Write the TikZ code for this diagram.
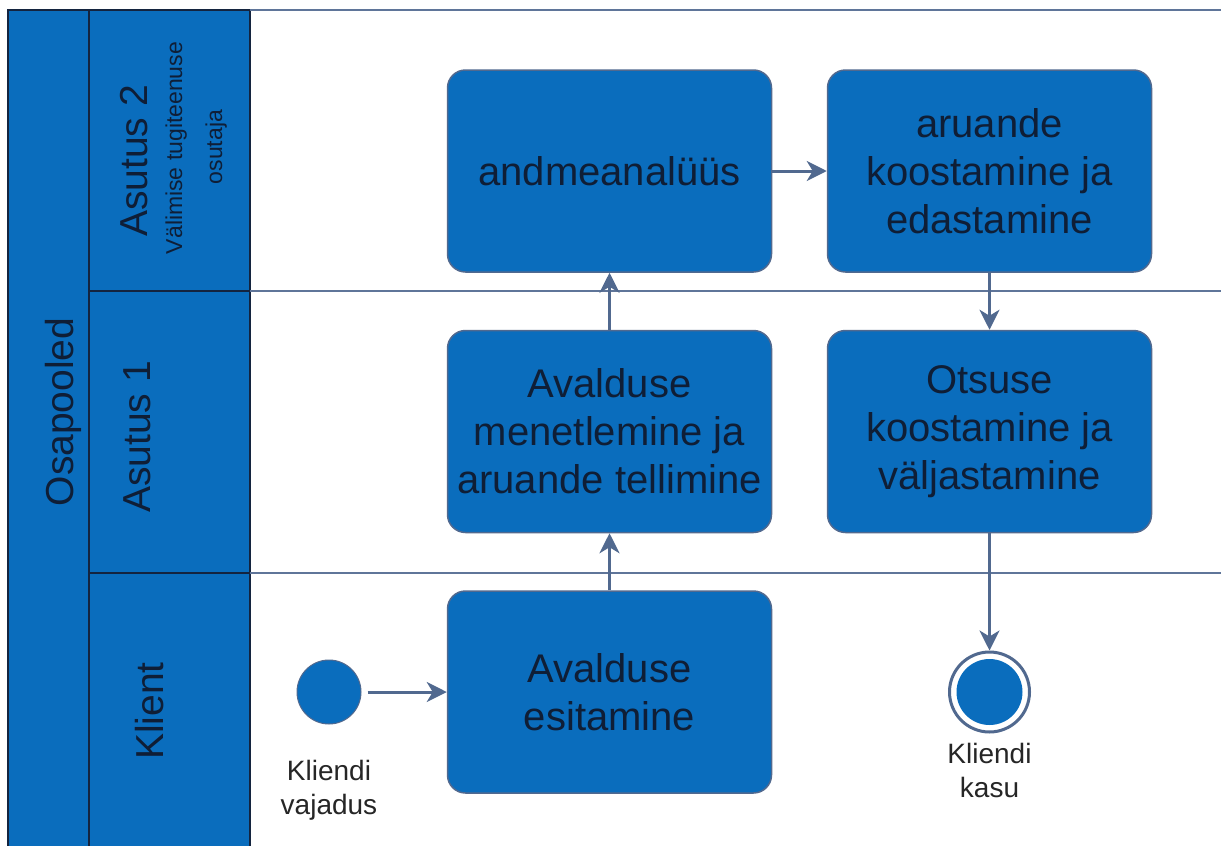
\documentclass[tikz,border=0pt]{standalone}
\usepackage{fontspec}
\setmainfont{Liberation Sans}
\usetikzlibrary{arrows.meta}
\definecolor{poolblue}{HTML}{0A6DBD}
\definecolor{edgeblue}{HTML}{51698F}
\definecolor{navy}{HTML}{14243F}
\definecolor{txt}{HTML}{0F1E36}
\definecolor{lbl}{HTML}{262626}
\definecolor{laneline}{HTML}{5F7599}
\tikzset{
  taskbox/.style={draw=edgeblue, line width=1.5pt, fill=poolblue, rounded corners=18pt,
    minimum width=324pt, minimum height=202pt, inner sep=0pt, align=center,
    text=txt, font=\fontsize{40}{48}\selectfont},
  flow/.style={draw=edgeblue, line width=3pt, -{Stealth[length=20pt,width=20pt,inset=6pt]}},
  lanelabel/.style={rotate=90, anchor=base, text=txt, font=\fontsize{39}{46}\selectfont, inner sep=0pt},
  evlabel/.style={align=center, text=lbl, font=\fontsize{28}{34}\selectfont, inner sep=0pt},
}
\begin{document}
\begin{tikzpicture}[x=1pt,y=-1pt]
\useasboundingbox (0,0) rectangle (1221,846);
\fill[white] (0,0) rectangle (1221,846);
% pool label area
\fill[poolblue] (8,10) rectangle (250,846);
\draw[navy, line width=1.5pt] (8,846) -- (8,10) -- (250,10);
\draw[navy, line width=1.5pt] (89,10) -- (89,846);
\draw[navy, line width=1.5pt] (250,10) -- (250,846);
\draw[navy, line width=1.5pt] (89,291) -- (250,291);
\draw[navy, line width=1.5pt] (89,573) -- (250,573);
% lane lines in the white area
\draw[laneline, line width=1.5pt] (250,10) -- (1221,10);
\draw[laneline, line width=1.5pt] (250,291) -- (1221,291);
\draw[laneline, line width=1.5pt] (250,573) -- (1221,573);
% labels
\node[lanelabel] (osa) at (73,412) {Osapooled};
\node[lanelabel] (as2) at (147,161) {Asutus 2};
\node[lanelabel, font=\fontsize{23}{28}\selectfont] (as2a) at (182,148) {Välimise tugiteenuse};
\node[lanelabel, font=\fontsize{23}{28}\selectfont] (as2b) at (222,147) {osutaja};
\node[lanelabel] (as1) at (150,437) {Asutus 1};
\node[lanelabel] (kl) at (163,711) {Klient};
% tasks
\node[taskbox] (anal) at (609.5,171) {andmeanalüüs};
\node[taskbox] (aru) at (989.5,171) {aruande\\koostamine ja\\edastamine};
\node[taskbox] (men) at (609.5,431.5) {Avalduse\\menetlemine ja\\aruande tellimine};
\node[taskbox] (ots) at (989.5,431.5) {Otsuse\\koostamine ja\\väljastamine};
\node[taskbox] (esi) at (609.5,692) {Avalduse\\esitamine};
% events
\node[circle, fill=poolblue, draw=edgeblue, line width=1pt, minimum size=64pt, inner sep=0pt] (start) at (329,692) {};
\node[circle, fill=white, draw=edgeblue, line width=3pt, minimum size=80pt, inner sep=0pt] (endo) at (989.5,692) {};
\node[circle, fill=poolblue, minimum size=66pt, inner sep=0pt] (endi) at (989.5,692) {};
\node[evlabel] (startlbl) at (329,790) {Kliendi\\vajadus};
\node[evlabel] (endlbl) at (989.5,770) {Kliendi\\kasu};
% flows
\draw[flow] ([xshift=6pt]start.east) -- (esi.west);
\draw[flow] (esi.north) -- (men.south);
\draw[flow] (men.north) -- (anal.south);
\draw[flow] (anal.east) -- (aru.west);
\draw[flow] (aru.south) -- (ots.north);
\draw[flow] (ots.south) -- (endo.north);
\end{tikzpicture}
\end{document}
